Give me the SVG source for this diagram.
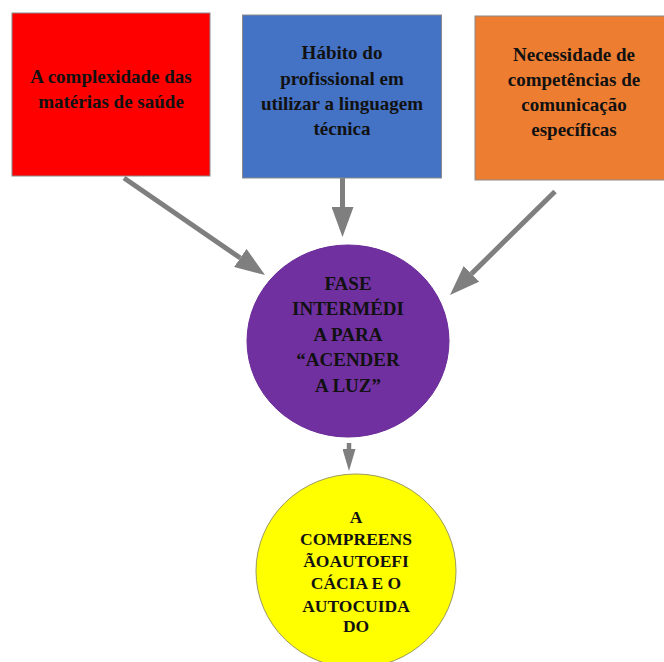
<svg xmlns="http://www.w3.org/2000/svg" width="664" height="662" viewBox="0 0 664 662">
<style>
  .box { stroke: #8a8a8a; stroke-width: 1; }
  .lbl { font-family: "Liberation Serif", "Times New Roman", serif; font-weight: bold; font-size: 19px; fill: #111; text-anchor: middle; }
  .lbl-s { font-size: 17.5px; }
  .conn { stroke: #7f7f7f; stroke-width: 5; fill: none; }
  .conn-s { stroke-width: 4.5; }
</style>
<defs>
  <marker id="ah" markerUnits="userSpaceOnUse" markerWidth="30" markerHeight="22" refX="0" refY="11" orient="auto">
    <path d="M0,0 L30,11 L0,22 z" fill="#7f7f7f"/>
  </marker>
  <marker id="ahs" markerUnits="userSpaceOnUse" markerWidth="22" markerHeight="13" refX="0" refY="6.5" orient="auto">
    <path d="M0,0 L22,6.5 L0,13 z" fill="#7f7f7f"/>
  </marker>
</defs>
<rect width="664" height="662" fill="#ffffff"/>

<g id="connectors">
  <line class="conn" x1="124" y1="178" x2="240.3" y2="258" marker-end="url(#ah)"/>
  <line class="conn" x1="342.5" y1="177" x2="342.5" y2="207" marker-end="url(#ah)"/>
  <line class="conn" x1="555" y1="191.5" x2="471.4" y2="273.9" marker-end="url(#ah)"/>
  <line class="conn conn-s" x1="349" y1="443" x2="349" y2="449" marker-end="url(#ahs)"/>
</g>

<g id="node-complexidade">
  <rect class="box" x="12" y="13" width="198" height="163" fill="#ff0000"/>
  <text class="lbl" x="111" y="83">A complexidade das</text>
  <text class="lbl" x="111" y="108">matérias de saúde</text>
</g>

<g id="node-habito">
  <rect class="box" x="242.5" y="15" width="199" height="163" fill="#4472c4"/>
  <text class="lbl" x="342" y="59">Hábito do</text>
  <text class="lbl" x="342" y="85">profissional em</text>
  <text class="lbl" x="342" y="110">utilizar a linguagem</text>
  <text class="lbl" x="342" y="135">técnica</text>
</g>

<g id="node-necessidade">
  <rect class="box" x="475" y="16" width="200" height="164" fill="#ed7d31"/>
  <text class="lbl" x="574" y="61">Necessidade de</text>
  <text class="lbl" x="574" y="86">competências de</text>
  <text class="lbl" x="574" y="111">comunicação</text>
  <text class="lbl" x="574" y="136">específicas</text>
</g>

<g id="node-fase">
  <ellipse cx="348" cy="341" rx="101" ry="96" fill="#7030a0" stroke="#6a2a98" stroke-width="1"/>
  <text class="lbl" x="348" y="290">FASE</text>
  <text class="lbl" x="348" y="315">INTERMÉDI</text>
  <text class="lbl" x="348" y="341">A PARA</text>
  <text class="lbl" x="348" y="366">“ACENDER</text>
  <text class="lbl" x="348" y="392">A LUZ”</text>
</g>

<g id="node-compreensao">
  <ellipse cx="356" cy="571" rx="100" ry="97" fill="#ffff00" stroke="#9a9a60" stroke-width="1"/>
  <text class="lbl lbl-s" x="356" y="523">A</text>
  <text class="lbl lbl-s" x="356" y="545">COMPREENS</text>
  <text class="lbl lbl-s" x="356" y="567">ÃOAUTOEFI</text>
  <text class="lbl lbl-s" x="356" y="589">CÁCIA E O</text>
  <text class="lbl lbl-s" x="356" y="612">AUTOCUIDA</text>
  <text class="lbl lbl-s" x="356" y="632">DO</text>
</g>
</svg>
